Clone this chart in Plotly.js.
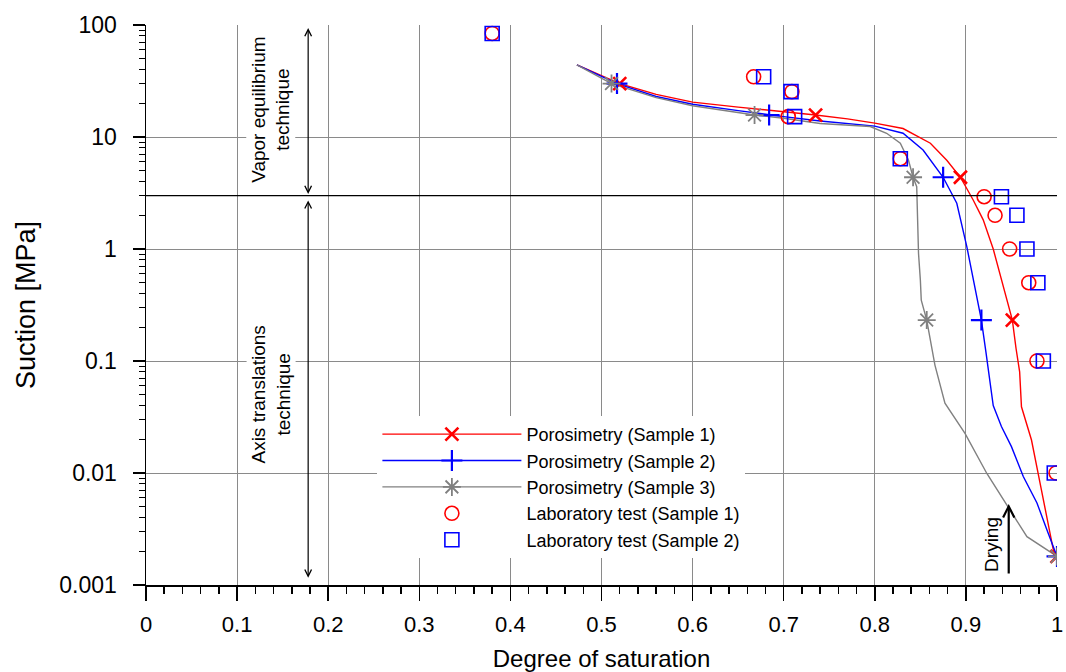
<!DOCTYPE html>
<html>
<head>
<meta charset="utf-8">
<script src="https://cdn.plot.ly/plotly-3.0.1.min.js"></script>
<style>
  html, body { margin: 0; padding: 0; background: #fff; }
  #chart { width: 1066px; height: 672px; }
</style>
</head>
<body>
<div id="chart"></div>
<script>
// ---- Porosimetry curves (degree of saturation, suction MPa) ----
const curve1X = [0.473, 0.520, 0.560, 0.600, 0.650, 0.700, 0.735, 0.770, 0.800, 0.831, 0.861, 0.879, 0.894, 0.908, 0.919, 0.930, 0.939, 0.951, 0.955, 0.959, 0.961, 0.972, 0.983, 0.996, 1.000];
const curve1Y = [44, 30, 24, 20.5, 18.5, 16.9, 15.7, 14.5, 13.3, 11.9, 8.8, 6.2, 4.37, 2.74, 1.82, 1.0, 0.53, 0.232, 0.13, 0.08, 0.039, 0.0197, 0.0070, 0.00205, 0.0018];

const curve2X = [0.473, 0.517, 0.560, 0.600, 0.650, 0.684, 0.700, 0.740, 0.800, 0.831, 0.853, 0.875, 0.890, 0.901, 0.910, 0.917, 0.922, 0.926, 0.930, 0.939, 0.950, 0.963, 0.978, 0.989, 1.000];
const curve2Y = [44, 30, 23, 19.6, 17.2, 15.7, 15.2, 13.9, 12.5, 10.8, 7.65, 4.37, 2.56, 1.05, 0.46, 0.232, 0.12, 0.065, 0.040, 0.026, 0.0172, 0.0093, 0.0054, 0.0031, 0.0018];

const curve3X = [0.473, 0.511, 0.560, 0.600, 0.668, 0.700, 0.740, 0.795, 0.813, 0.828, 0.837, 0.842, 0.846, 0.847, 0.848, 0.850, 0.851, 0.857, 0.866, 0.877, 0.899, 0.923, 0.945, 0.967, 1.000];
const curve3Y = [44, 30, 22.5, 19, 15.7, 14.7, 13.2, 12.4, 10.8, 8.8, 6.2, 4.37, 3.6, 1.82, 0.91, 0.53, 0.35, 0.232, 0.092, 0.042, 0.0226, 0.0099, 0.0052, 0.0027, 0.0018];

// ---- Marked porosimetry points ----
const markY = [30, 15.7, 4.37, 0.232, 0.0018];
const mark1X = [0.520, 0.735, 0.894, 0.951, 1.000];
const mark2X = [0.517, 0.684, 0.875, 0.917, 1.000];
const mark3X = [0.511, 0.668, 0.842, 0.857, 1.000];

// ---- Laboratory tests ----
const labY = [84, 34.5, 25.4, 15.2, 6.4, 2.93, 2.0, 1.0, 0.5, 0.1, 0.01];
const lab1X = [0.380, 0.667, 0.709, 0.705, 0.828, 0.920, 0.932, 0.948, 0.969, 0.978, 0.999];
const lab2X = [0.380, 0.678, 0.708, 0.712, 0.828, 0.939, 0.956, 0.967, 0.979, 0.985, 0.997];

// ---- Names / labels ----
const seriesNames = ["Porosimetry (Sample 1)", "Porosimetry (Sample 2)", "Porosimetry (Sample 3)",
                     "Laboratory test (Sample 1)", "Laboratory test (Sample 2)"];
const yTickVals = [0.001, 0.01, 0.1, 1, 10, 100];
const yTickText = ["0.001", "0.01", "0.1", "1", "10", "100"];
const boundarySuction = 3;        // MPa, separation of the two techniques
const techniqueX = 0.178;         // saturation where the range arrows sit
const vaporRange = [97, 3.1];
const axisRange = [2.8, 0.00116];
const dryingX = 0.947;
const dryingRange = [0.00123, 0.0053];
const labelY = {vapor: 17.4, axis: 0.05, drying: 0.0023};

const FONT = "Liberation Sans, Arial, sans-serif";
const RED = "#ff0000", BLUE = "#0000ff", GRAY = "#808080";

// interleave nulls so that a lines+markers trace shows only markers on the plot
function sep(a) { const o = []; a.forEach((v, i) => { if (i) o.push(null); o.push(v); }); return o; }

const traces = [];
const curves = [
  {x: curve1X, y: curve1Y, mx: mark1X, c: RED, sym: "x-thin-open", lw: 2.6, ms: 13},
  {x: curve2X, y: curve2Y, mx: mark2X, c: BLUE, sym: "cross-thin-open", lw: 2.2, ms: 15},
  {x: curve3X, y: curve3Y, mx: mark3X, c: GRAY, sym: "asterisk-open", lw: 1.8, ms: 15}
];
curves.forEach((s, i) => {
  traces.push({
    x: s.x, y: s.y, type: "scatter", mode: "lines",
    line: {color: s.c, width: 1.4}, showlegend: false, legendgroup: "g" + i, hoverinfo: "skip"
  });
});
curves.forEach((s, i) => {
  traces.push({
    x: sep(s.mx), y: sep(markY), type: "scatter", mode: "lines+markers",
    connectgaps: false, name: seriesNames[i], legendgroup: "g" + i,
    line: {color: s.c, width: 1.4},
    marker: {symbol: s.sym, size: s.ms, color: s.c, line: {color: s.c, width: s.lw}}
  });
});
traces.push({
  x: lab1X, y: labY, type: "scatter", mode: "markers", name: seriesNames[3], legendgroup: "g3",
  marker: {symbol: "circle-open", size: 14, color: RED, line: {color: RED, width: 1.6}}
});
traces.push({
  x: lab2X, y: labY, type: "scatter", mode: "markers", name: seriesNames[4], legendgroup: "g4",
  marker: {symbol: "square-open", size: 14, color: BLUE, line: {color: BLUE, width: 1.6}}
});

const L = Math.log10;
const annFont = {family: FONT, size: 19, color: "#000"};
const layout = {
  width: 1066, height: 672,
  margin: {l: 146, r: 9, t: 25, b: 87},
  paper_bgcolor: "#fff", plot_bgcolor: "#fff",
  font: {family: FONT, color: "#000"},
  showlegend: true,
  legend: {
    x: 0.254, y: 0.302, xanchor: "left", yanchor: "top",
    bgcolor: "#fff", borderwidth: 0, font: {family: FONT, size: 18, color: "#000"},
    itemwidth: 139, tracegroupgap: 0, traceorder: "grouped"
  },
  xaxis: {
    range: [0, 1], dtick: 0.1, tick0: 0, zeroline: false,
    showgrid: true, gridcolor: "#8a8a8a", gridwidth: 1,
    showline: true, linecolor: "#000", linewidth: 1.5,
    ticks: "outside", ticklen: 14, tickwidth: 1.5, tickcolor: "#000",
    minor: {dtick: 0.02, ticks: "outside", ticklen: 7, tickwidth: 1.5, tickcolor: "#000", showgrid: false},
    tickfont: {family: FONT, size: 22, color: "#000"},
    ticklabelstandoff: 5,
    title: {text: "Degree of saturation", font: {family: FONT, size: 24, color: "#000"}, standoff: 14}
  },
  yaxis: {
    type: "log", range: [-3, 2], zeroline: false,
    tickvals: yTickVals, ticktext: yTickText,
    showgrid: true, gridcolor: "#8a8a8a", gridwidth: 1,
    showline: true, linecolor: "#000", linewidth: 1.5,
    ticks: "outside", ticklen: 12, tickwidth: 1.5, tickcolor: "#000",
    minor: {dtick: "D1", ticks: "outside", ticklen: 6, tickwidth: 1.2, tickcolor: "#000", showgrid: false},
    tickfont: {family: FONT, size: 23, color: "#000"},
    ticklabelstandoff: 11,
    title: {text: "Suction [MPa]", font: {family: FONT, size: 27, color: "#000"}, standoff: 16}
  },
  shapes: [{
    type: "line", xref: "paper", x0: 0, x1: 1, yref: "y",
    y0: boundarySuction, y1: boundarySuction,
    line: {color: "#000", width: 1.2}, layer: "above"
  }],
  annotations: [
    {x: techniqueX, y: L(vaporRange[1]), ax: techniqueX, ay: L(vaporRange[0]), xref: "x", yref: "y", axref: "x", ayref: "y",
     text: "", showarrow: true, arrowhead: 5, startarrowhead: 5, arrowside: "end+start", arrowsize: 1.1, startarrowsize: 1.1, arrowwidth: 1.2, arrowcolor: "#000", standoff: 0, startstandoff: 0},
    {x: techniqueX, y: L(axisRange[1]), ax: techniqueX, ay: L(axisRange[0]), xref: "x", yref: "y", axref: "x", ayref: "y",
     text: "", showarrow: true, arrowhead: 5, startarrowhead: 5, arrowside: "end+start", arrowsize: 1.1, startarrowsize: 1.1, arrowwidth: 1.2, arrowcolor: "#000", standoff: 0, startstandoff: 0},
    {x: techniqueX - 0.041, y: L(labelY.vapor), xref: "x", yref: "y", text: "Vapor equilibrium<br>technique",
     showarrow: false, textangle: -90, font: annFont, bgcolor: "#fff"},
    {x: techniqueX - 0.041, y: L(labelY.axis), xref: "x", yref: "y", text: "Axis translations<br>technique",
     showarrow: false, textangle: -90, font: annFont, bgcolor: "#fff"},
    {x: dryingX, y: L(dryingRange[1]), ax: dryingX, ay: L(dryingRange[0]), xref: "x", yref: "y", axref: "x", ayref: "y",
     text: "", showarrow: true, arrowhead: 5, arrowsize: 1, arrowwidth: 2.2, arrowcolor: "#000", standoff: 0},
    {x: dryingX - 0.019, y: L(labelY.drying), xref: "x", yref: "y", text: "Drying",
     showarrow: false, textangle: -90, font: annFont}
  ]
};

Plotly.newPlot("chart", traces, layout, {displayModeBar: false, staticPlot: true});
</script>
</body>
</html>
